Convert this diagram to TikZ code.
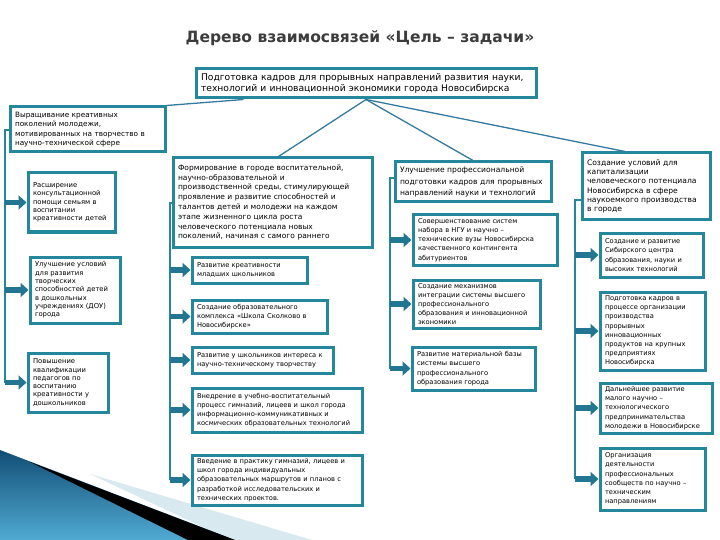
\documentclass[tikz,border=0pt]{standalone}
\usepackage{fontspec}
\setmainfont{DejaVu Sans}
\usetikzlibrary{arrows.meta,shadows}
\definecolor{tealc}{RGB}{36,135,156}
\definecolor{arrc}{RGB}{34,118,146}
\definecolor{connc}{RGB}{52,122,158}
\definecolor{titlec}{RGB}{60,60,60}
\definecolor{bluedark}{RGB}{18,78,118}
\definecolor{bluelight}{RGB}{80,170,210}
\definecolor{wedgec}{RGB}{216,234,240}
\tikzset{
  box/.style={draw=tealc, line width=3pt, fill=white, inner xsep=5pt, inner ysep=2pt,
    align=left, drop shadow={shadow xshift=1.5pt, shadow yshift=-1.5pt, fill=black, opacity=0.25}},
  fT/.style={font=\fontsize{9.2}{11.7}\selectfont},
  fA/.style={font=\fontsize{7.3}{9.3}\selectfont},
  fS/.style={font=\fontsize{6.8}{8.3}\selectfont},
  fB/.style={font=\fontsize{7.5}{9.8}\selectfont},
  fCt/.style={font=\fontsize{7.6}{11.5}\selectfont},
  fD/.style={font=\fontsize{7.6}{9.3}\selectfont},
  fC/.style={font=\fontsize{6.7}{9.2}\selectfont},
  conn/.style={draw=connc, line width=1.3pt},
  vline/.style={draw=tealc, line width=2pt},
  arr/.style={draw=arrc, line width=5.5pt, -{Triangle[width=14pt,length=8pt]}},
}
\begin{document}
\begin{tikzpicture}[x=1pt,y=-1pt]
\useasboundingbox (0,0) rectangle (720,540);
% background decoration
\fill[wedgec] (90,474) -- (312,540) -- (230,540) -- cycle;
\shade[top color=bluedark, bottom color=bluelight] (0,450) -- (235,540) -- (0,540) -- cycle;
\fill[black] (30,462) -- (235,540) -- (188,540) -- cycle;
% title
\node[font=\bfseries\fontsize{15.5}{18}\selectfont, text=titlec] (title) at (360,38) {Дерево взаимосвязей «Цель – задачи»};
% top box
\node[box, fT, text width=330pt, minimum height=29pt] (T) at (366,83.5)
{Подготовка кадров для прорывных направлений развития науки,\\ технологий и инновационной экономики города Новосибирска};
% column A
\node[box, fA, text width=145pt, minimum height=45pt] (A) at (87.5,129.5)
{Выращивание креативных\\ поколений молодежи,\\ мотивированных на творчество в\\ научно-технической сфере};
\node[box, fS, text width=77pt, minimum height=59pt] (A1) at (71.5,202.5)
{Расширение\\ консультационной\\ помощи семьям в\\ воспитании\\ креативности детей};
\node[box, fS, text width=80pt, minimum height=66pt] (A2) at (75,290)
{Улучшение условий\\ для развития\\ творческих\\ способностей детей\\ в дошкольных\\ учреждениях (ДОУ)\\ города};
\node[box, fS, text width=70pt, minimum height=59pt] (A3) at (68,382.5)
{Повышение\\ квалификации\\ педагогов по\\ воспитанию\\ креативности у\\ дошкольников};
% column B
\node[box, fB, text width=189pt, minimum height=89pt] (B) at (272.5,202.5)
{Формирование в городе воспитательной,\\ научно-образовательной и\\ производственной среды, стимулирующей\\ проявление и развитие способностей и\\ талантов детей и молодежи на каждом\\ этапе жизненного цикла роста\\ человеческого потенциала новых\\ поколений, начиная с самого раннего};
\node[box, fC, text width=105pt, minimum height=26pt] (B1) at (249.5,270)
{Развитие креативности\\ младших школьников};
\node[box, fC, text width=125pt, minimum height=33pt] (B2) at (259.5,316.5)
{Создание образовательного\\ комплекса «Школа Сколково в\\ Новосибирске»};
\node[box, fC, text width=131pt, minimum height=26pt] (B3) at (262.5,360)
{Развитие у школьников интереса к\\ научно-техническому творчеству};
\node[box, fC, text width=160pt, minimum height=44pt] (B4) at (277,410)
{Внедрение в учебно-воспитательный\\ процесс гимназий, лицеев и школ города\\ информационно-коммуникативных и\\ космических образовательных технологий};
\node[box, fC, text width=160pt, minimum height=50pt] (B5) at (277,480)
{Введение в практику гимназий, лицеев и\\ школ города индивидуальных\\ образовательных маршрутов и планов с\\ разработкой исследовательских и\\ технических проектов.};
% column C
\node[box, fCt, text width=146pt, minimum height=40pt] (C) at (473,182)
{Улучшение профессиональной\\ подготовки кадров для прорывных\\ направлений науки и технологий};
\node[box, fC, text width=134pt, minimum height=50pt] (C1) at (485,240)
{Совершенствование систем\\ набора в НГУ и научно –\\ технические вузы Новосибирска\\ качественного контингента\\ абитуриентов};
\node[box, fC, text width=117pt, minimum height=48pt] (C2) at (476.5,304)
{Создание механизмов\\ интеграции системы высшего\\ профессионального\\ образования и инновационной\\ экономики};
\node[box, fC, text width=113pt, minimum height=43pt] (C3) at (473.5,368.5)
{Развитие материальной базы\\ системы высшего\\ профессионального\\ образования города};
% column D
\node[box, fD, text width=118pt, minimum height=67pt] (D) at (646,186.5)
{Создание условий для\\ капитализации\\ человеческого потенциала\\ Новосибирска в сфере\\ наукоемкого производства\\ в городе};
\node[box, fC, text width=93pt, minimum height=44pt] (D1) at (651.5,255)
{Создание и развитие\\ Сибирского центра\\ образования, науки и\\ высоких технологий};
\node[box, fC, text width=95pt, minimum height=78pt] (D2) at (652.5,331)
{Подготовка кадров в\\ процессе организации\\ производства\\ прорывных\\ инновационных\\ продуктов на крупных\\ предприятиях\\ Новосибирска};
\node[box, fC, text width=102pt, minimum height=50pt] (D3) at (656,408)
{Дальнейшее развитие\\ малого научно –\\ технологического\\ предпринимательства\\ молодежи в Новосибирске};
\node[box, fC, text width=95pt, minimum height=62pt] (D4) at (652.5,479)
{Организация\\ деятельности\\ профессиональных\\ сообществ по научно –\\ техническим\\ направлениям};
% connectors from top box
\draw[conn] ([xshift=49pt]T.south west) -- (A.north east);
\draw[conn] (T.south) -- ([xshift=6pt]B.north);
\draw[conn] (T.south) -- (C.north);
\draw[conn] (T.south) -- ([xshift=-21pt]D.north);
% vertical lines
\coordinate (La) at (5,130);
\coordinate (Lb) at (170,203);
\coordinate (Lc) at (390,178);
\coordinate (Ld) at (575,200);
\draw[vline] (A.west |- La) -- (La) -- (La |- A3.west);
\draw[vline] (B.west |- Lb) -- (Lb) -- (Lb |- B5.west);
\draw[vline] (C.west |- Lc) -- (Lc) -- (Lc |- C3.west);
\draw[vline] (D.west |- Ld) -- (Ld) -- (Ld |- D4.west);
% arrows
\foreach \n in {A1,A2,A3} \draw[arr] (La |- \n.west) -- (\n.west);
\foreach \n in {B1,B2,B3,B4,B5} \draw[arr] (Lb |- \n.west) -- (\n.west);
\foreach \n in {C1,C2,C3} \draw[arr] (Lc |- \n.west) -- (\n.west);
\foreach \n in {D1,D2,D3,D4} \draw[arr] (Ld |- \n.west) -- (\n.west);
\end{tikzpicture}
\end{document}
